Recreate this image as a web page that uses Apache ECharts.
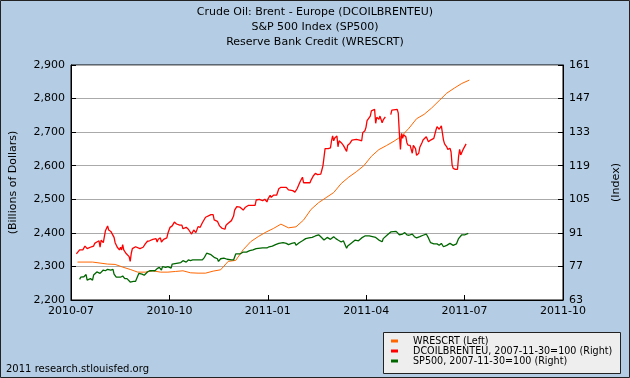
<!DOCTYPE html>
<html>
<head>
<meta charset="utf-8">
<script src="https://cdn.jsdelivr.net/npm/echarts@6/dist/echarts.min.js"></script>
<style>html,body{margin:0;padding:0;}#c{width:630px;height:378px;}</style>
</head>
<body>
<div id="c"></div>
<script>
// x positions are days since 2010-07-01; axis runs to 2011-10-01
const xTickLabels = ['2010-07','2010-10','2011-01','2011-04','2011-07','2011-10'];
const titleLines = ['Crude Oil: Brent - Europe (DCOILBRENTEU)','S&P 500 Index (SP500)','Reserve Bank Credit (WRESCRT)'];
const seriesNames = ['WRESCRT (Left)','DCOILBRENTEU, 2007-11-30=100 (Right)','SP500, 2007-11-30=100 (Right)'];

// WRESCRT weekly (billions of dollars), first week at day 6
const wrescrtStartDay = 6;
const wrescrtValues = [2313,2313,2313,2310,2307,2306,2298,2291,2283,2283,2287,2283,2283,2285,2287,2281,2280,2280,2286,2290,2315,2318,2350,2374,2389,2402,2413,2426,2415,2418,2438,2470,2490,2505,2520,2547,2566,2582,2600,2628,2648,2660,2673,2688,2712,2740,2753,2772,2794,2816,2831,2845,2855];

// DCOILBRENTEU index (2007-11-30=100)
const brentDays = [5,6,8,9,11,13,14,15,16,19,21,22,24,25,26,27,28,30,31,32,34,35,37,38,40,41,43,45,46,47,48,49,51,52,54,55,56,57,60,61,64,67,69,71,73,76,77,79,80,81,83,84,86,87,89,90,92,94,96,98,101,103,104,107,109,110,112,114,116,118,120,122,125,126,130,132,133,136,138,140,143,144,146,149,151,152,154,155,157,160,162,165,168,171,172,175,178,180,182,183,185,186,188,189,191,193,195,198,200,202,206,208,210,213,215,216,219,222,223,225,227,229,230,232,233,234,235,236,237,239,241,242,243,244,245,247,248,249,251,253,254,256,257,259,261,265,268,270,271,273,274,275,276,278,279,280,282,283,284,286,287,289,290,292,294,297,298,303,304,305,306,307,308,309,311,312,313,314,315,317,318,320,321,323,324,326,327,330,332,334,337,339,340,342,344,346,347,349,350,352,353,354,355,357,359,360,361,362,364,365,367];
const brentValues = [82.2,81.6,83.9,84.4,83.9,85.5,85.2,84.4,85.0,85.2,85.5,86.6,87.2,86.4,87.7,85.0,88.0,86.9,89.4,91.9,93.9,92.2,91.6,92.2,89.1,86.9,85.0,83.9,85.0,83.9,86.1,83.9,82.5,82.2,81.1,79.1,82.5,84.4,85.2,84.7,84.4,85.0,86.4,87.5,87.7,88.3,87.7,88.6,87.2,88.3,88.9,87.2,88.3,88.0,88.9,90.8,93.3,93.9,95.5,94.7,94.2,94.2,92.7,93.3,92.5,91.9,90.5,92.2,91.1,93.6,93.3,95.2,97.5,98.3,98.6,98.6,96.4,95.8,93.9,93.0,92.5,94.2,95.0,96.1,98.0,100.5,101.9,102.5,101.7,100.5,101.7,102.5,102.5,102.5,104.7,105.0,104.4,105.0,103.9,105.2,106.7,105.8,106.7,106.4,106.7,109.4,110.0,110.0,110.0,108.9,108.6,108.0,109.4,112.5,114.2,111.9,111.9,111.9,113.0,114.7,115.8,115.3,115.8,115.5,117.2,118.9,122.5,126.1,125.6,126.1,126.4,129.4,131.4,129.4,130.6,131.4,126.9,129.4,128.6,127.5,126.9,125.0,127.5,128.3,129.7,130.0,129.7,129.4,132.8,133.6,135.0,137.8,137.8,139.7,141.9,142.5,142.5,136.7,139.2,138.4,139.7,136.9,138.1,139.4,null,140.3,142.2,142.5,140.9,132.5,125.8,132.5,130.4,131.9,131.1,128.6,127.6,128.1,127.5,124.2,127.5,126.1,123.3,124.2,126.7,128.6,129.7,131.1,129.0,129.7,130.4,133.9,135.3,134.2,135.6,129.7,128.1,126.9,125.8,126.3,124.8,119.3,117.9,117.5,117.5,122.8,125.8,123.5,125.6,126.3,128.1];

// SP500 index (2007-11-30=100)
const spDays = [8,9,12,14,15,18,20,21,24,27,30,32,34,37,39,40,42,46,48,50,52,55,56,58,60,62,63,66,68,71,73,78,80,82,84,85,88,90,93,94,98,102,104,107,109,111,113,117,122,124,126,130,133,136,137,139,142,145,146,149,151,153,157,160,163,166,169,172,178,182,184,187,190,193,197,200,202,205,208,209,212,215,218,221,224,227,230,232,235,238,241,244,246,248,251,253,256,257,260,264,267,270,273,277,280,283,286,289,290,294,297,302,305,308,310,312,314,317,319,321,324,327,330,332,334,337,340,342,344,346,349,352,355,356,358,360,363,366,369];
const spValues = [71.6,72.5,72.7,73.6,71.3,71.9,71.3,73.4,74.7,74.1,75.5,75.2,75.8,75.5,75.8,73.8,72.5,72.5,73.0,71.9,71.9,70.5,71.3,70.8,70.8,73.0,74.1,73.8,73.3,74.7,75.2,75.2,76.1,76.6,75.5,76.9,76.6,76.9,76.3,78.0,78.3,78.6,79.4,78.8,79.7,79.4,79.7,79.7,79.7,80.8,82.5,81.9,80.8,80.2,79.1,80.2,80.5,80.0,80.5,79.7,79.7,82.2,82.2,83.0,83.0,83.6,83.9,84.4,84.7,84.7,85.2,85.5,86.1,86.6,86.9,86.6,86.1,86.6,86.9,85.8,86.9,87.7,88.6,88.9,89.1,89.7,90.2,89.4,88.0,89.1,88.3,89.4,88.6,88.0,87.2,87.7,84.6,85.5,86.6,88.0,87.7,88.9,89.7,89.7,89.4,89.1,88.0,87.3,88.6,90.2,91.4,91.6,90.2,90.5,91.1,90.2,90.0,90.5,89.4,88.9,89.4,90.0,90.5,88.9,86.9,86.4,86.4,85.8,86.6,85.2,85.8,86.6,85.8,85.5,86.4,88.6,90.2,90.2,90.8];

const FONT = 'DejaVu Sans';
const X_MAX = 457, X_INT = 91.4;
const R_MIN = 63, R_STEP = 14;

const wrescrtData = wrescrtValues.map((v, i) => [wrescrtStartDay + 7 * i, v]);
const toRight = v => (v === null ? '-' : (v - R_MIN) / R_STEP);
const brentData = brentDays.map((d, i) => [d, toRight(brentValues[i])]);
const spData = spDays.map((d, i) => [d, toRight(spValues[i])]);

const chart = echarts.init(document.getElementById('c'), null, {renderer: 'canvas'});
chart.setOption({
  animation: false,
  backgroundColor: '#B4CDE4',
  grid: {left: 65, right: 65, top: 65, bottom: 78, show: true, backgroundColor: '#fff', borderColor: '#000', borderWidth: 1},
  title: {
    text: titleLines.join('\n'), left: 'center', top: 5, padding: 0,
    textStyle: {fontFamily: FONT, fontSize: 11, fontWeight: 'normal', color: '#000', lineHeight: 15}
  },
  legend: {
    orient: 'vertical', left: 391, top: 336, padding: 0, itemWidth: 7, itemHeight: 3, itemGap: 0, icon: 'rect',
    data: seriesNames,
    textStyle: {fontFamily: FONT, fontSize: 9.6, color: '#000', lineHeight: 10, padding: [0, 0, 0, 10]}
  },
  graphic: [
    {type: 'rect', z: 0, shape: {x: 383.5, y: 332.5, width: 237, height: 41}, style: {fill: '#EEEEEE', stroke: '#222', lineWidth: 1}},
    {type: 'text', left: 6, top: 364, style: {text: '2011 research.stlouisfed.org', font: '10px "DejaVu Sans"', fill: '#000'}},
    {type: 'rect', z: 10, shape: {x: 0.5, y: 0.5, width: 629, height: 377}, style: {fill: 'none', stroke: '#222', lineWidth: 1}}
  ],
  xAxis: {
    type: 'value', min: 0, max: X_MAX, interval: X_INT,
    axisLine: {show: true, lineStyle: {color: '#000', width: 1}},
    axisTick: {show: true, inside: true, length: 5, lineStyle: {color: '#000'}},
    axisLabel: {margin: 6, fontFamily: FONT, fontSize: 11, color: '#000', showMinLabel: true, showMaxLabel: true,
      formatter: v => xTickLabels[Math.round(v / X_INT)] || ''},
    splitLine: {show: false}
  },
  yAxis: [
    {
      type: 'value', position: 'left', min: 2200, max: 2900, interval: 100,
      name: '(Billions of Dollars)', nameLocation: 'middle', nameRotate: 90, nameGap: 52,
      nameTextStyle: {fontFamily: FONT, fontSize: 11, color: '#000'},
      axisLine: {show: true, lineStyle: {color: '#000'}},
      axisTick: {show: true, inside: true, length: 5, lineStyle: {color: '#000'}},
      axisLabel: {margin: 6, fontFamily: FONT, fontSize: 11, color: '#000', formatter: v => v.toLocaleString('en-US')},
      splitLine: {show: true, lineStyle: {color: '#AAAAAA', width: 1}}
    },
    {
      type: 'value', position: 'right', min: 0, max: 7, interval: 1,
      name: '(Index)', nameLocation: 'middle', nameRotate: 90, nameGap: 48,
      nameTextStyle: {fontFamily: FONT, fontSize: 11, color: '#000'},
      axisLine: {show: true, lineStyle: {color: '#000'}},
      axisTick: {show: true, inside: true, length: 5, lineStyle: {color: '#000'}},
      axisLabel: {margin: 6, fontFamily: FONT, fontSize: 11, color: '#000', formatter: v => String(Math.round(R_MIN + v * R_STEP))},
      splitLine: {show: false}
    }
  ],
  series: [
    {name: seriesNames[0], type: 'line', yAxisIndex: 0, data: wrescrtData, showSymbol: false, symbol: 'none',
      lineStyle: {color: '#FF6600', width: 1}, itemStyle: {color: '#FF6600'}},
    {name: seriesNames[1], type: 'line', yAxisIndex: 1, data: brentData, showSymbol: false, symbol: 'none', connectNulls: false,
      lineStyle: {color: '#FF0000', width: 1.3}, itemStyle: {color: '#FF0000'}},
    {name: seriesNames[2], type: 'line', yAxisIndex: 1, data: spData, showSymbol: false, symbol: 'none',
      lineStyle: {color: '#006600', width: 1.3}, itemStyle: {color: '#006600'}}
  ]
});
</script>
</body>
</html>
